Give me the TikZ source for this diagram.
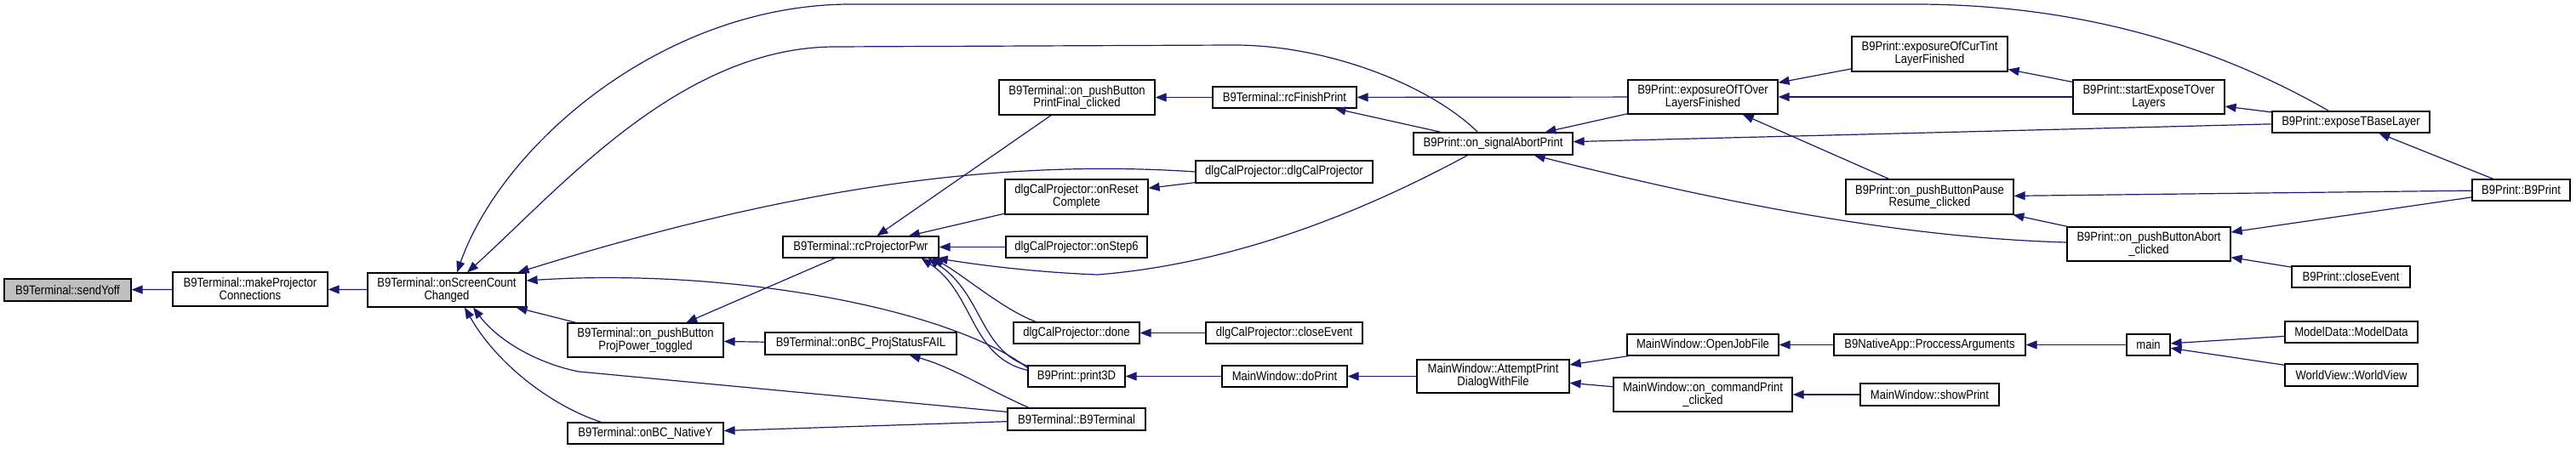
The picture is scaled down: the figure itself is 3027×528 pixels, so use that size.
\documentclass[tikz,border=0pt]{standalone}
\usepackage{fontspec}
\setmainfont{Liberation Sans}[FakeStretch=0.87]
\usetikzlibrary{arrows.meta}
\definecolor{edgeblue}{HTML}{191970}
\definecolor{graybox}{HTML}{BFBFBF}
\newcommand\mynode[7][white]{\node[box,fill=#1,minimum width={(#5-#3)*0.5pt},minimum height={(#6-#4)*0.5pt}] (#2) at ({(#3+#5)/2},{(#4+#6)/2}) {#7};}
\begin{document}
\begin{tikzpicture}[x=0.5pt,y=-0.5pt,
  box/.style={draw=black,line width=0.6pt,inner sep=0pt,align=center,font=\fontsize{7.5pt}{7.4pt}\selectfont},
  e/.style={draw=edgeblue,line width=0.6pt,-{Triangle[length=6.5pt,width=5pt]}}]
\useasboundingbox[fill=white] (0,0) rectangle (3027,528);
% nodes
\mynode[graybox]{sendYoff}{5}{328}{154}{354}{B9Terminal::sendYoff}
\mynode{makeProj}{203}{320}{385}{360}{B9Terminal::makeProjector\\Connections}
\mynode{onScreen}{432}{321}{618}{361}{B9Terminal::onScreenCount\\Changed}
\mynode{PrintFinal}{1174}{94}{1357}{135}{B9Terminal::on\_pushButton\\PrintFinal\_clicked}
\mynode{onReset}{1181}{211}{1349}{252}{dlgCalProjector::onReset\\Complete}
\mynode{rcPwr}{920}{278}{1103}{303}{B9Terminal::rcProjectorPwr}
\mynode{onStep6}{1182}{278}{1348}{303}{dlgCalProjector::onStep6}
\mynode{ProjPower}{667}{380}{850}{420}{B9Terminal::on\_pushButton\\ProjPower\_toggled}
\mynode{FAIL}{899}{391}{1124}{417}{B9Terminal::onBC\_ProjStatusFAIL}
\mynode{done}{1191}{379}{1339}{404}{dlgCalProjector::done}
\mynode{print3D}{1208}{430}{1322}{455}{B9Print::print3D}
\mynode{B9Term}{1184}{480}{1346}{506}{B9Terminal::B9Terminal}
\mynode{NativeY}{667}{497}{850}{522}{B9Terminal::onBC\_NativeY}
\mynode{rcFinish}{1425}{102}{1594}{127}{B9Terminal::rcFinishPrint}
\mynode{signalAbort}{1661}{156}{1848}{182}{B9Print::on\_signalAbortPrint}
\mynode{dlgCal}{1405}{189}{1613}{215}{dlgCalProjector::dlgCalProjector}
\mynode{dlgClose}{1417}{379}{1601}{404}{dlgCalProjector::closeEvent}
\mynode{doPrint}{1436}{430}{1583}{455}{MainWindow::doPrint}
\mynode{Attempt}{1665}{423}{1844}{462}{MainWindow::AttemptPrint\\DialogWithFile}
\mynode{exposureOfTOver}{1913}{94}{2089}{134}{B9Print::exposureOfTOver\\LayersFinished}
\mynode{OpenJob}{1912}{393}{2090}{418}{MainWindow::OpenJobFile}
\mynode{cmdPrint}{1896}{444}{2106}{484}{MainWindow::on\_commandPrint\\\_clicked}
\mynode{CurTint}{2176}{43}{2359}{84}{B9Print::exposureOfCurTint\\LayerFinished}
\mynode{Pause}{2169}{211}{2366}{252}{B9Print::on\_pushButtonPause\\Resume\_clicked}
\mynode{startExpose}{2436}{94}{2614}{134}{B9Print::startExposeTOver\\Layers}
\mynode{Abort}{2429}{267}{2621}{307}{B9Print::on\_pushButtonAbort\\\_clicked}
\mynode{Process}{2155}{393}{2380}{418}{B9NativeApp::ProccessArguments}
\mynode{showPrint}{2186}{451}{2349}{477}{MainWindow::showPrint}
\mynode{exposeTBase}{2670}{131}{2855}{156}{B9Print::exposeTBaseLayer}
\mynode{B9Print}{2905}{211}{3020}{236}{B9Print::B9Print}
\mynode{B9closeEvent}{2693}{313}{2832}{338}{B9Print::closeEvent}
\mynode{main}{2499}{393}{2550}{418}{main}
\mynode{ModelData}{2685}{378}{2841}{403}{ModelData::ModelData}
\mynode{WorldView}{2685}{428}{2841}{454}{WorldView::WorldView}
% edges (caller -> callee)
\draw[e] (makeProj) -- (sendYoff);
\draw[e] (onScreen) -- (makeProj);
\draw[e] ([shift={(-26,0)}]exposeTBase.north) .. controls (2640,75) and (2480,5) .. (2250,5) -- (1000,5) .. controls (780,5) and (590,170) .. ([shift={(12,0)}]onScreen.north);
\draw[e] ([shift={(-18,0)}]signalAbort.north) .. controls (1680,100) and (1560,53) .. (1450,53) -- (982,55) .. controls (800,55) and (660,220) .. ([shift={(24,0)}]onScreen.north);
\draw[e] (dlgCal.west) .. controls (1150,185) and (900,230) .. ([shift={(-10,0)}]onScreen.north east);
\draw[e] ([shift={(0,3)}]print3D.north west) .. controls (1110,360) and (850,315) .. ([shift={(0,-11)}]onScreen.east);
\draw[e] (ProjPower) -- (onScreen);
\draw[e] ([shift={(0,5)}]B9Term.north west) -- (680,437) .. controls (630,427) and (585,400) .. ([shift={(31,0)}]onScreen.south);
\draw[e] ([shift={(-52,0)}]NativeY.north) .. controls (650,478) and (585,430) .. ([shift={(21,0)}]onScreen.south);
\draw[e] (PrintFinal) -- (rcPwr);
\draw[e] (onReset) -- (rcPwr);
\draw[e] (onStep6) -- (rcPwr);
\draw[e] ([shift={(-30,0)}]signalAbort.south) .. controls (1600,250) and (1450,310) .. (1290,323) .. controls (1210,320) and (1140,310) .. ([shift={(-3,0)}]rcPwr.south east);
\draw[e] ([shift={(27,0)}]done.north west) .. controls (1180,365) and (1130,322) .. ([shift={(-8,0)}]rcPwr.south east);
\draw[e] ([shift={(0,1)}]print3D.north west) .. controls (1150,410) and (1155,345) .. ([shift={(-13,0)}]rcPwr.south east);
\draw[e] ([shift={(0,6)}]print3D.north west) .. controls (1140,420) and (1145,345) .. ([shift={(-21,0)}]rcPwr.south east);
\draw[e] (rcPwr) -- (ProjPower);
\draw[e] (FAIL) -- (ProjPower);
\draw[e] ([shift={(-56,0)}]B9Term.north) .. controls (1160,458) and (1120,432) .. ([shift={(57,0)}]FAIL.south);
\draw[e] (B9Term) -- (NativeY);
\draw[e] (rcFinish) -- (PrintFinal);
\draw[e] (dlgCal) -- (onReset);
\draw[e] (dlgClose) -- (done);
\draw[e] (doPrint) -- (print3D);
\draw[e] (Attempt) -- (doPrint);
\draw[e] (OpenJob) -- (Attempt);
\draw[e] (cmdPrint) -- (Attempt);
\draw[e] (Process) -- (OpenJob);
\draw[e] (showPrint) -- (cmdPrint);
\draw[e] (main) -- (Process);
\draw[e] (ModelData) -- (main);
\draw[e] (WorldView) -- (main);
\draw[e] (exposureOfTOver) -- (rcFinish);
\draw[e] (signalAbort) -- (rcFinish);
\draw[e] (exposureOfTOver) -- (signalAbort);
\draw[e] (exposeTBase) -- (signalAbort);
\draw[e] ([shift={(0,-2)}]Abort.west) .. controls (2250,280) and (2050,245) .. ([shift={(-46,0)}]signalAbort.south east);
\draw[e] (CurTint) -- (exposureOfTOver);
\draw[e] (startExpose) -- (exposureOfTOver);
\draw[e] (Pause) -- (exposureOfTOver);
\draw[e] (startExpose) -- (CurTint);
\draw[e] (exposeTBase) -- (startExpose);
\draw[e] (B9Print) -- (exposeTBase);
\draw[e] (B9Print) -- (Pause);
\draw[e] (Abort) -- (Pause);
\draw[e] (B9Print) -- (Abort);
\draw[e] (B9closeEvent) -- (Abort);
\end{tikzpicture}
\end{document}
